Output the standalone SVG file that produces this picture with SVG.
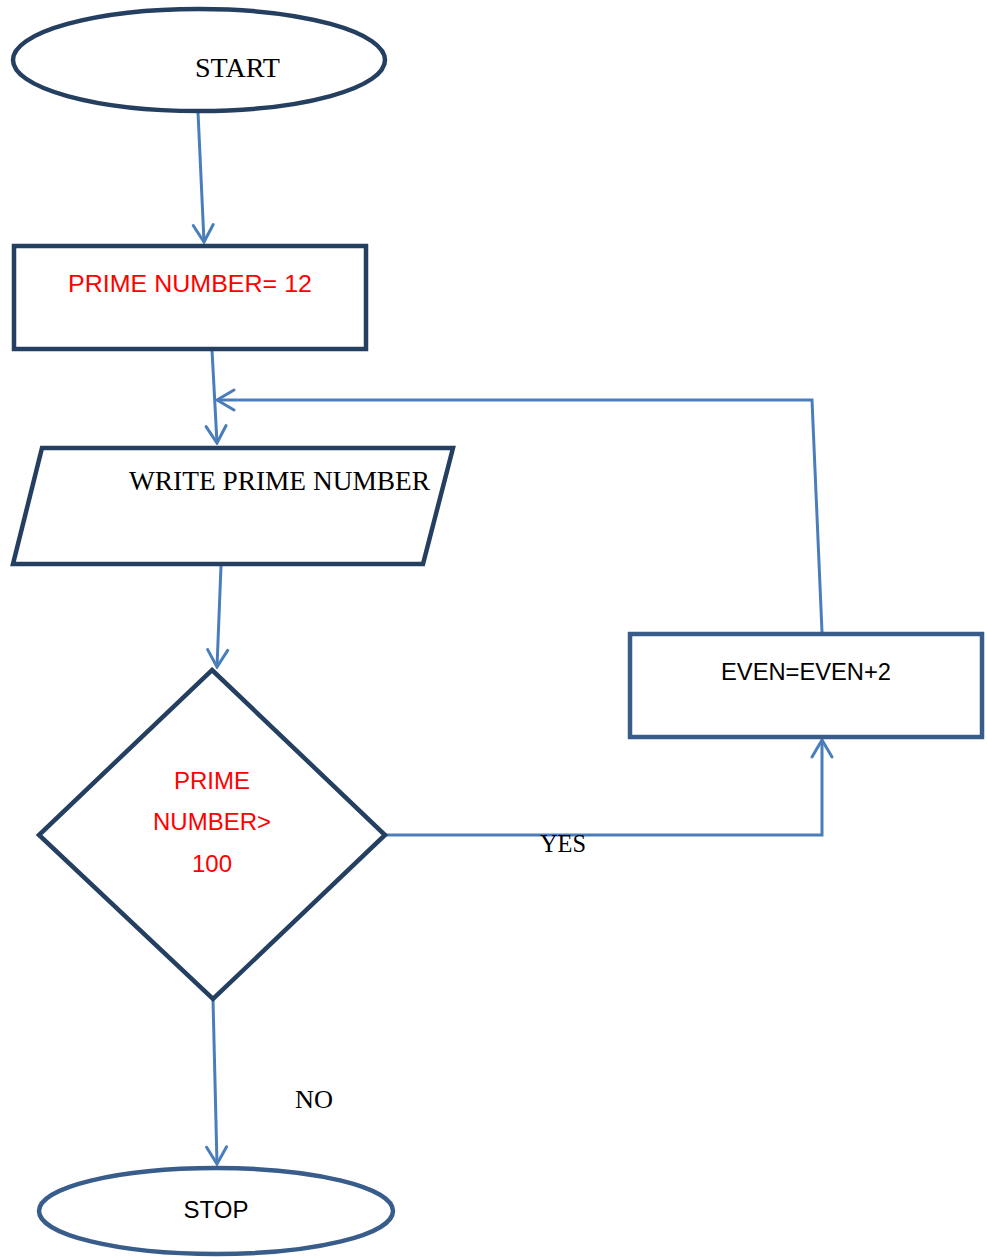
<svg xmlns="http://www.w3.org/2000/svg" width="987" height="1257" viewBox="0 0 987 1257">
<defs>
<style>
.node{fill:#fff;stroke:#243F60;stroke-width:4.5}
.node2{fill:#fff;stroke:#385D8A;stroke-width:4.5}
.conn{fill:none;stroke:#4A7EBB;stroke-width:3}
.serif{font-family:"Liberation Serif","DejaVu Serif",serif;fill:#000}
.sans{font-family:"Liberation Sans","DejaVu Sans",sans-serif}
.red{fill:#FF0000}
.blk{fill:#000}
</style>
<marker id="arr" markerUnits="userSpaceOnUse" viewBox="-20 -12 22 24" refX="0" refY="0" markerWidth="22" markerHeight="24" orient="auto">
<path d="M-17,-10 L0,0 L-17,10" fill="none" stroke="#4A7EBB" stroke-width="3" stroke-linecap="round"/>
</marker>
</defs>
<rect width="987" height="1257" fill="#fff"/>
<g id="connectors">
<line class="conn" x1="198" y1="112" x2="204" y2="242" marker-end="url(#arr)"/>
<line class="conn" x1="212" y1="350" x2="217" y2="443" marker-end="url(#arr)"/>
<polyline class="conn" points="822,632 812,400 217,400" marker-end="url(#arr)"/>
<line class="conn" x1="221" y1="566" x2="217" y2="667" marker-end="url(#arr)"/>
<polyline class="conn" points="386,835 822,835 822,740" marker-end="url(#arr)"/>
<line class="conn" x1="213" y1="999" x2="217" y2="1164" marker-end="url(#arr)"/>
</g>
<g id="start">
<ellipse class="node" cx="199" cy="60" rx="186" ry="51"/>
<text class="serif" x="195" y="77" font-size="27" textLength="85" lengthAdjust="spacingAndGlyphs">START</text>
</g>
<g id="init">
<rect class="node" x="14" y="246" width="352" height="103"/>
<text class="sans red" x="68" y="292" font-size="24" textLength="244" lengthAdjust="spacingAndGlyphs">PRIME NUMBER= 12</text>
</g>
<g id="write">
<polygon class="node" points="42,448 453,448 423,564 13,564"/>
<text class="serif" x="129" y="490" font-size="27" textLength="301" lengthAdjust="spacingAndGlyphs">WRITE PRIME NUMBER</text>
</g>
<g id="decision">
<polygon class="node" points="212,670 385,835 213,999 39,835"/>
<text class="sans red" x="212" y="789" font-size="24" text-anchor="middle">PRIME</text>
<text class="sans red" x="212" y="830" font-size="24" text-anchor="middle">NUMBER&gt;</text>
<text class="sans red" x="212" y="872" font-size="24" text-anchor="middle">100</text>
</g>
<g id="even">
<rect class="node2" x="630" y="634" width="352" height="103"/>
<text class="sans blk" x="721" y="680" font-size="24" textLength="170" lengthAdjust="spacingAndGlyphs">EVEN=EVEN+2</text>
</g>
<g id="labels">
<text class="serif" x="540" y="852" font-size="25" textLength="46" lengthAdjust="spacingAndGlyphs">YES</text>
<text class="serif" x="295" y="1108" font-size="25" textLength="38" lengthAdjust="spacingAndGlyphs">NO</text>
</g>
<g id="stop">
<ellipse class="node2" cx="216" cy="1211" rx="177" ry="43"/>
<text class="sans blk" x="216" y="1218" font-size="24" text-anchor="middle">STOP</text>
</g>
</svg>
